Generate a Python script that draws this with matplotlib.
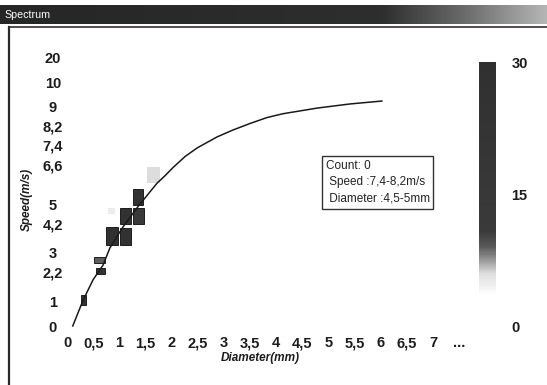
import numpy as np
import matplotlib
matplotlib.use("Agg")
import matplotlib.pyplot as plt
from matplotlib import font_manager
from matplotlib.colors import LinearSegmentedColormap, Normalize
from matplotlib.cm import ScalarMappable
from matplotlib.lines import Line2D

# ---------------- data ----------------
diameter_ticks = [0, 0.5, 1, 1.5, 2, 2.5, 3, 3.5, 4, 4.5, 5, 5.5, 6, 6.5, 7, 7.5]
diameter_labels = ["0", "0,5", "1", "1,5", "2", "2,5", "3", "3,5", "4", "4,5",
                   "5", "5,5", "6", "6,5", "7", "..."]
speed_ticks = [0, 1, 2.2, 3, 4.2, 5, 6.6, 7.4, 8.2, 9, 10, 11]
speed_labels = ["0", "1", "2,2", "3", "4,2", "5", "6,6", "7,4", "8,2", "9", "10", "20"]

# terminal fall-speed reference curve (diameter mm, speed m/s)
curve_d = [0.11, 0.31, 0.50, 0.69, 0.82, 1.07, 1.36, 1.72, 1.87, 2.03, 2.26,
           2.49, 2.87, 3.17, 3.50, 3.82, 4.13, 4.78, 5.41, 6.02]
curve_v = [0.0, 1.07, 1.90, 2.50, 3.20, 4.06, 4.90, 5.85, 6.15, 6.50, 6.95,
           7.30, 7.75, 8.03, 8.30, 8.54, 8.70, 8.93, 9.10, 9.22]

# occupied spectrum cells: diameter range, speed range, particle count
cell_d_lo = [0.26, 0.55, 0.52, 0.75, 1.01, 1.01, 1.27, 1.27, 1.53, 0.78]
cell_d_hi = [0.36, 0.73, 0.73, 0.98, 1.22, 1.22, 1.47, 1.46, 1.78, 0.92]
cell_v_lo = [0.86, 2.13, 2.60, 3.30, 3.30, 4.18, 4.18, 4.96, 5.86, 4.60]
cell_v_hi = [1.27, 2.38, 2.84, 4.06, 4.03, 4.85, 4.84, 5.61, 6.50, 4.85]
cell_count = [22, 24, 9, 28, 26, 27, 12, 26, 6, 5]

count_ticks = [0, 15, 30]
info_lines = ["Count: 0", " Speed :7,4-8,2m/s", " Diameter :4,5-5mm"]

# ---------------- fonts ----------------
available = {f.name for f in font_manager.fontManager.ttflist}
tick_family = ["Liberation Sans Narrow" if "Liberation Sans Narrow" in available
               else "Liberation Sans", "DejaVu Sans"]
ui_family = ["Liberation Sans", "DejaVu Sans"]

W, H = 547, 385
fig = plt.figure(figsize=(W / 100, H / 100), dpi=100)
fig.patch.set_facecolor("white")


def fx(x):
    return x / W


def fy(y):
    return 1 - y / H


# ---------------- window chrome ----------------
bar = fig.add_axes([0, fy(24), 1, 19 / H])
bar_cmap = LinearSegmentedColormap.from_list(
    "titlebar", [(0, "#262626"), (0.7, "#2e2e2e"), (0.85, "#6a6a6a"), (1, "#b5b5b5")])
bar.imshow(np.linspace(0, 1, 256)[None, :], aspect="auto", cmap=bar_cmap,
           extent=[0, 1, 0, 1])
bar.set_axis_off()
fig.text(fx(4), fy(14.5), "Spectrum", color="white", fontsize=7.7,
         family=ui_family, ha="left", va="center")

fig.add_artist(Line2D([fx(8.5), fx(8.5)], [fy(27), fy(385)], color="#2a2a2a", lw=1.6))
fig.add_artist(Line2D([fx(8.5), 1], [fy(27), fy(27)], color="#3a2a33", lw=1.2))

# ---------------- spectrum axes ----------------
ax_l, ax_r, ax_t, ax_b = 62, 470, 50, 332
ax = fig.add_axes([fx(ax_l), fy(ax_b), (ax_r - ax_l) / W, (ax_b - ax_t) / H])
ax.set_xlim((ax_l - 67) / 52.3, (ax_r - 67) / 52.3)
ax.set_ylim((326 - ax_b) / 24.4, (326 - ax_t) / 24.4)
for s in ax.spines.values():
    s.set_visible(False)

cmap = LinearSegmentedColormap.from_list(
    "counts", [(0, "#ffffff"), (0.12, "#ffffff"), (0.2, "#dddddd"),
               (0.3, "#5a5a5a"), (0.36, "#3a3a3a"), (1, "#303030")])
norm = Normalize(0, 30)

heights = [hi - lo for lo, hi in zip(cell_v_lo, cell_v_hi)]
widths = [hi - lo for lo, hi in zip(cell_d_lo, cell_d_hi)]
edges = ["#1e1e1e" if c >= 9 else "none" for c in cell_count]
ax.bar(cell_d_lo, heights, width=widths, bottom=cell_v_lo, align="edge",
       color=cmap(norm(np.array(cell_count))), edgecolor=edges, linewidth=0.7,
       zorder=2)

ax.plot(curve_d, curve_v, color="#1a1a1a", lw=1.1, zorder=3,
        solid_joinstyle="round")

ax.set_xticks(diameter_ticks)
ax.set_xticklabels(diameter_labels)
ax.set_yticks(speed_ticks)
ax.set_yticklabels(speed_labels)
ax.tick_params(length=0)
ax.tick_params(axis="x", pad=3)
ax.tick_params(axis="y", pad=6.5)
for lab in ax.get_xticklabels() + ax.get_yticklabels():
    lab.set_family(tick_family)
    lab.set_fontweight("bold")
    lab.set_fontsize(10.5)
    lab.set_color("#1c1c1c")
for lab in ax.get_yticklabels():
    lab.set_horizontalalignment("center")

fig.text(fx(260), fy(358), "Diameter(mm)", fontsize=8.5, style="italic",
         fontweight="bold", family=ui_family, ha="center", va="center", color="#1c1c1c")
fig.text(fx(27), fy(199), "Speed(m/s)", fontsize=8.5, style="italic",
         fontweight="bold", family=ui_family, ha="center", va="center",
         rotation=90, color="#1c1c1c")

# info box
ax.text(0.646, 0.61, "\n".join(info_lines), transform=ax.transAxes,
        fontsize=8.5, family=ui_family, ha="left", va="top", linespacing=1.5,
        color="#222222",
        bbox=dict(boxstyle="square,pad=0.3", fc="white", ec="#333333", lw=1.0))

# ---------------- colour scale ----------------
cax = fig.add_axes([fx(479), fy(327), 17 / W, 265 / H])
cb = fig.colorbar(ScalarMappable(norm=norm, cmap=cmap), cax=cax, ticks=count_ticks)
cb.outline.set_visible(False)
cax.tick_params(length=0, pad=11)
for lab in cax.get_yticklabels():
    lab.set_family(tick_family)
    lab.set_fontweight("bold")
    lab.set_fontsize(10.5)
    lab.set_color("#1c1c1c")

fig.savefig("out.png", dpi=100)
